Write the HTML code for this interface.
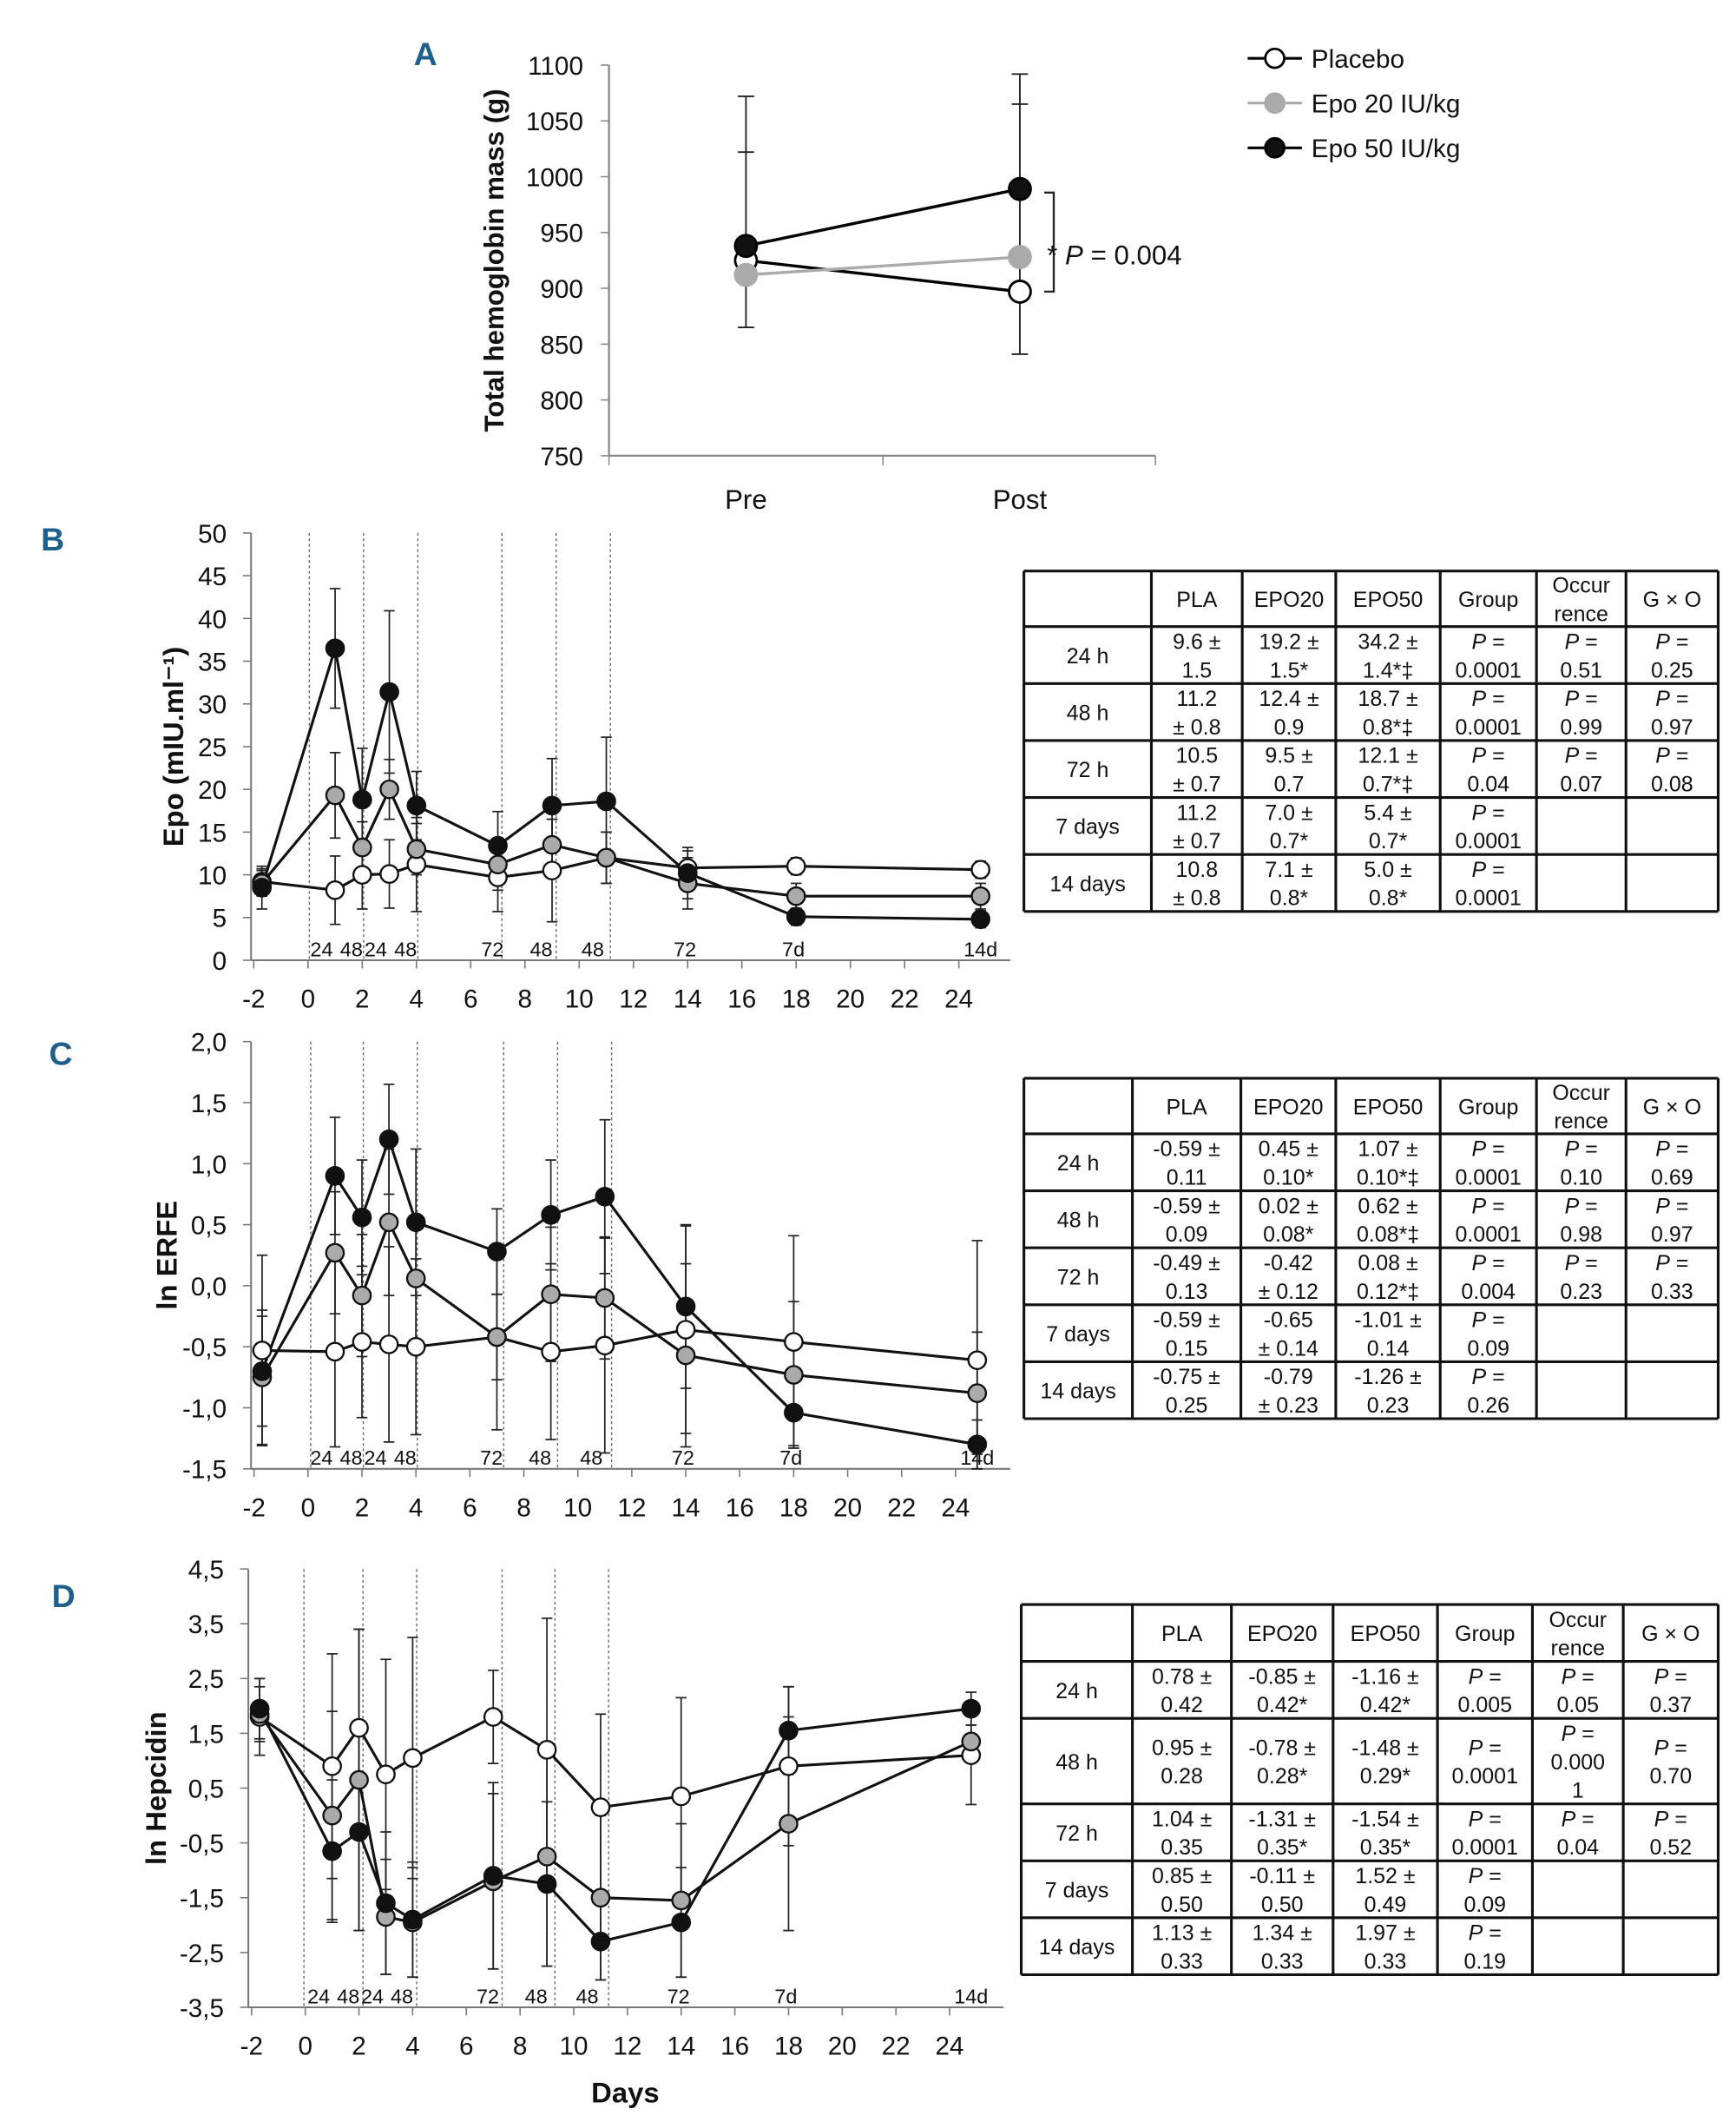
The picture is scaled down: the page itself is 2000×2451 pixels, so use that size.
<!DOCTYPE html>
<html><head><meta charset="utf-8"><style>
html,body{margin:0;padding:0;background:#fff}
svg{display:block;font-family:"Liberation Sans Narrow","Liberation Sans",sans-serif}
</style></head><body>
<svg id="s" xmlns="http://www.w3.org/2000/svg" width="2000" height="2451" viewBox="0 0 1280 1569">
<rect width="1280" height="1569" fill="#fff"/>
</svg>
<script>
// Panel A data
const aCats = ['Pre','Post'];
const aPla = [925, 897];
const aE20 = [912, 928];
const aE50 = [938, 989];
const aErrTop = [1072, 1092];
const aErrMid = [1022, 1065];
const aErrBot = [865, 841];
const aTicks = [750,800,850,900,950,1000,1050,1100];
// Panel B data
const days = [-1.7, 1, 2, 3, 4, 7, 9, 11, 14, 18, 24.8];
const bPla = [9.2, 8.2, 10, 10.1, 11.2, 9.7, 10.5, 12, 10.8, 11, 10.6];
const bE20 = [9.0, 19.3, 13.2, 20, 13, 11.2, 13.5, 12, 9, 7.5, 7.5];
const bE50 = [8.5, 36.5, 18.8, 31.4, 18.1, 13.4, 18.1, 18.6, 10.2, 5.1, 4.8];
const bPlaErr = [1.5, 4, 4, 4, 5.5, 4, 6, 3, 2, 1, 1];
const bE20Err = [1.5, 5, 3, 3.5, 3, 3, 3, 3, 3, 1.5, 1.5];
const bE50Err = [2.5, 7, 6, 9.5, 4, 4, 5.5, 7.5, 3, 1, 1];
const bTicks = [0,5,10,15,20,25,30,35,40,45,50];
// Panel C data
const cPla = [-0.53, -0.54, -0.46, -0.48, -0.5, -0.42, -0.54, -0.49, -0.36, -0.46, -0.61];
const cE20 = [-0.75, 0.27, -0.08, 0.52, 0.06, -0.42, -0.07, -0.1, -0.57, -0.73, -0.88];
const cE50 = [-0.7, 0.9, 0.56, 1.2, 0.52, 0.28, 0.58, 0.73, -0.17, -1.04, -1.3];
const cPlaErr = [0.78, 0.78, 0.62, 0.8, 0.72, 0.76, 0.72, 0.88, 0.85, 0.87, 0.98];
const cE20Err = [0.55, 0.5, 0.5, 0.6, 0.5, 0.35, 0.55, 0.5, 0.75, 0.6, 0.5];
const cE50Err = [0.45, 0.48, 0.47, 0.45, 0.6, 0.35, 0.45, 0.63, 0.67, 0.27, 0.2];
const cTicks = [-1.5,-1.0,-0.5,0.0,0.5,1.0,1.5,2.0];
// Panel D data
const dPla = [1.8, 0.9, 1.6, 0.75, 1.05, 1.8, 1.2, 0.15, 0.35, 0.9, 1.1];
const dE20 = [1.85, 0.0, 0.65, -1.85, -1.95, -1.2, -0.75, -1.5, -1.55, -0.15, 1.35];
const dE50 = [1.95, -0.65, -0.3, -1.6, -1.9, -1.1, -1.25, -2.3, -1.95, 1.55, 1.95];
const dPlaErr = [0.7, 2.05, 1.8, 2.1, 2.2, 0.85, 2.4, 1.7, 1.8, 1.45, 0.9];
const dE20Err = [0.5, 1.9, 2.75, 1.05, 1.0, 1.6, 2.0, 1.5, 1.4, 1.95, 0.3];
const dE50Err = [0.55, 1.3, 1.8, 1.3, 1.05, 1.7, 1.5, 0.7, 1.0, 0.8, 0.3];
const dTicks = [-3.5,-2.5,-1.5,-0.5,0.5,1.5,2.5,3.5,4.5];
const xTicks = [-2,0,2,4,6,8,10,12,14,16,18,20,22,24];
const tpLabels = ['24','48','24','48','72','48','48','72','7d','14d'];
const tpDays = [0.5, 1.6, 2.5, 3.6, 6.8, 8.6, 10.5, 13.9, 17.9, 24.8];

const S=document.getElementById('s');const NS='http://www.w3.org/2000/svg';
function el(tag,attrs,parent){const e=document.createElementNS(NS,tag);for(const k in attrs)e.setAttribute(k,attrs[k]);(parent||S).appendChild(e);return e;}
function txt(x,y,t,attrs,parent){const e=el('text',Object.assign({x:x,y:y,'font-size':18,fill:'#111'},attrs||{}),parent);e.textContent=t;return e;}

// Panel letters
[['A',305,48],['B',30,406],['C',36,785],['D',38,1185]].forEach(p=>{const t=txt(p[1],p[2],p[0],{'font-size':24,'font-weight':'bold',fill:'#1f5f8b'});

});

// ===== Panel A
(function(){
const g=el('g',{});


const y=v=>336-(v-750)*(288/350);const x=i=>550+i*202;
el('line',{x1:449,y1:48,x2:449,y2:336,stroke:'#888','stroke-width':1.5},g);
el('line',{x1:449,y1:336,x2:852,y2:336,stroke:'#888','stroke-width':1.5},g);
[449,651,852].forEach(tx=>el('line',{x1:tx,y1:336,x2:tx,y2:343,stroke:'#888'},g));
aTicks.forEach(v=>{el('line',{x1:443,y1:y(v),x2:449,y2:y(v),stroke:'#888'},g);txt(430,y(v)+7,String(v),{'text-anchor':'end','font-size':19},g);});
aCats.forEach((c,i)=>txt(x(i),375,c,{'text-anchor':'middle','font-size':20},g));
const yl=txt(0,0,'Total hemoglobin mass (g)',{'font-size':20,'font-weight':'bold','text-anchor':'middle',transform:'translate(371,192) rotate(-90)'},g);


aCats.forEach((c,i)=>{const xx=x(i);
[aErrTop[i],aErrMid[i]].forEach(v=>el('line',{x1:xx-6,y1:y(v),x2:xx+6,y2:y(v),stroke:'#222','stroke-width':1.2},g));
el('line',{x1:xx-6,y1:y(aErrBot[i]),x2:xx+6,y2:y(aErrBot[i]),stroke:'#222','stroke-width':1.2},g);
el('line',{x1:xx,y1:y(aErrTop[i]),x2:xx,y2:y(aErrBot[i]),stroke:'#222','stroke-width':1.2},g);});
const ser=[[aPla,'#000','#fff'],[aE20,'#aaa','#aaa'],[aE50,'#000','#111']];
ser.forEach((s,si)=>{el('line',{x1:x(0),y1:y(s[0][0]),x2:x(1),y2:y(s[0][1]),stroke:s[1],'stroke-width':2.2},g);});
ser.forEach((s,si)=>s[0].forEach((v,i)=>{const c=el('circle',{cx:x(i),cy:y(v),r:8,fill:s[2],stroke:si==1?'#aaa':'#000','stroke-width':1.8},g);

}));
el('path',{d:'M770,142 H777 V215 H770',fill:'none',stroke:'#222','stroke-width':1.5},g);
const pt=txt(772,195,'* ',{'font-size':20},g);const ts=el('tspan',{'font-style':'italic'},pt);ts.textContent='P';const ts2=el('tspan',{},pt);ts2.textContent=' = 0.004';
// legend
const lg=el('g',{});


[['Placebo','#000','#fff','#000'],['Epo 20 IU/kg','#aaa','#aaa','#aaa'],['Epo 50 IU/kg','#000','#111','#000']].forEach((l,i)=>{const yy=43+i*33;
const e=el('g',{},lg);


el('line',{x1:920,y1:yy,x2:960,y2:yy,stroke:l[1],'stroke-width':2},e);
el('circle',{cx:940,cy:yy,r:7,fill:l[2],stroke:l[3],'stroke-width':1.8},e);
txt(967,yy+7,l[0],{'font-size':19},e);});
})();

// ===== time panels
function panel(o){
const g=el('g',{});


const x=d=>o.x0+d*o.dx;const y=v=>o.yb-(v-o.ymin)*o.py;
el('line',{x1:o.xl,y1:o.yt,x2:o.xl,y2:o.yb,stroke:'#777','stroke-width':1.3},g);
el('line',{x1:o.xl,y1:o.yb,x2:o.xr,y2:o.yb,stroke:'#777','stroke-width':1.3},g);
o.ticks.forEach(v=>{el('line',{x1:o.xl-6,y1:y(v),x2:o.xl,y2:y(v),stroke:'#777'},g);txt(o.xl-18,y(v)+7,o.fmt(v),{'text-anchor':'end','font-size':19},g);});
xTicks.forEach(d=>{el('line',{x1:x(d),y1:o.yb,x2:x(d),y2:o.yb+6,stroke:'#777'},g);txt(x(d),o.yb+35,String(d),{'text-anchor':'middle','font-size':19},g);});
o.dotted.forEach(d=>el('line',{x1:x(d),y1:o.yt,x2:x(d),y2:o.yb,stroke:'#666','stroke-width':0.9,'stroke-dasharray':'2,2'},g));
tpLabels.forEach((l,i)=>txt(x(tpDays[i]),o.yb-3,l,{'text-anchor':'middle','font-size':15},g));
const yl=txt(0,0,o.ylabel,{'font-size':21,'font-weight':'bold','text-anchor':'middle',transform:'translate('+o.ylx+','+((o.yt+o.yb)/2)+') rotate(-90)'},g);


const ser=[[o.pla,o.plaE,'#fff','placebo'],[o.e20,o.e20E,'#aaa','epo20'],[o.e50,o.e50E,'#111','epo50']];
ser.forEach(s=>s[0].forEach((v,i)=>{const xx=x(days[i]);const t=y(Math.min(v+s[1][i],o.ymax)),b=y(Math.max(v-s[1][i],o.ymin));
el('line',{x1:xx,y1:t,x2:xx,y2:b,stroke:'#222','stroke-width':1.1},g);
el('line',{x1:xx-4,y1:t,x2:xx+4,y2:t,stroke:'#222','stroke-width':1.1},g);
el('line',{x1:xx-4,y1:b,x2:xx+4,y2:b,stroke:'#222','stroke-width':1.1},g);}));
ser.forEach(s=>{const p=el('polyline',{points:s[0].map((v,i)=>x(days[i])+','+y(v)).join(' '),fill:'none',stroke:'#111','stroke-width':2},g);

});
ser.forEach(s=>s[0].forEach((v,i)=>{const c=el('circle',{cx:x(days[i]),cy:y(v),r:6.5,fill:s[2],stroke:'#111','stroke-width':1.5},g);

}));
}
panel({name:'panel-b-chart',x0:227,dx:20,xl:185,xr:745,yt:393,yb:708,ymin:0,ymax:50,py:6.3,ticks:bTicks,fmt:v=>String(v),dotted:[0.05,2.05,4.05,7.15,9.15,11.15],ylabel:'Epo (mIU.ml⁻¹)',ylx:135,pla:bPla,e20:bE20,e50:bE50,plaE:bPlaErr,e20E:bE20Err,e50E:bE50Err});
panel({name:'panel-c-chart',x0:227,dx:19.9,xl:185,xr:745,yt:768,yb:1083,ymin:-1.5,ymax:2,py:90,ticks:cTicks,fmt:v=>v.toFixed(1).replace('.',','),dotted:[0.1,2.05,4.05,7.25,9.25,11.25],ylabel:'ln ERFE',ylx:130,pla:cPla,e20:cE20,e50:cE50,plaE:cPlaErr,e20E:cE20Err,e50E:cE50Err});
panel({name:'panel-d-chart',x0:225,dx:19.8,xl:183,xr:740,yt:1157,yb:1480,ymin:-3.5,ymax:4.5,py:40.4,ticks:dTicks,fmt:v=>v.toFixed(1).replace('.',','),dotted:[-0.05,2.15,4.15,7.33,9.3,11.3],ylabel:'ln Hepcidin',ylx:122,pla:dPla,e20:dE20,e50:dE50,plaE:dPlaErr,e20E:dE20Err,e50E:dE50Err});
const dl=txt(461,1550,'Days',{'font-size':21,'font-weight':'bold','text-anchor':'middle'});



// ===== tables
function table(name,cols,rows,cells){
const g=el('g',{});


rows.forEach(r=>el('line',{x1:cols[0],y1:r,x2:cols[cols.length-1],y2:r,stroke:'#111','stroke-width':2},g));
cols.forEach(c=>el('line',{x1:c,y1:rows[0],x2:c,y2:rows[rows.length-1],stroke:'#111','stroke-width':2},g));
cells.forEach((row,ri)=>row.forEach((cell,ci)=>{if(!cell)return;const lines=cell.split('|');const cx=(cols[ci]+cols[ci+1])/2,cy=(rows[ri]+rows[ri+1])/2;const lh=21;
lines.forEach((l,li)=>{const t=txt(cx,cy+6+(li-(lines.length-1)/2)*lh,'',{'text-anchor':'middle','font-size':16},g);
if(l.startsWith('P =')){const a=el('tspan',{'font-style':'italic'},t);a.textContent='P';const b=el('tspan',{},t);b.textContent=l.slice(1);}else t.textContent=l;});}));
}
const hdr=['','PLA','EPO20','EPO50','Group','Occur|rence','G × O'];
table('table-b',[755,849,916,985,1062,1133,1199,1267],[421,462,504,546,588,630,672],[hdr,
['24 h','9.6 ±|1.5','19.2 ±|1.5*','34.2 ±|1.4*‡','P =|0.0001','P =|0.51','P =|0.25'],
['48 h','11.2|± 0.8','12.4 ±|0.9','18.7 ±|0.8*‡','P =|0.0001','P =|0.99','P =|0.97'],
['72 h','10.5|± 0.7','9.5 ±|0.7','12.1 ±|0.7*‡','P =|0.04','P =|0.07','P =|0.08'],
['7 days','11.2|± 0.7','7.0 ±|0.7*','5.4 ±|0.7*','P =|0.0001','',''],
['14 days','10.8|± 0.8','7.1 ±|0.8*','5.0 ±|0.8*','P =|0.0001','','']]);
table('table-c',[755,835,915,985,1062,1133,1199,1267],[795,836,878,920,962,1004,1046],[hdr,
['24 h','-0.59 ±|0.11','0.45 ±|0.10*','1.07 ±|0.10*‡','P =|0.0001','P =|0.10','P =|0.69'],
['48 h','-0.59 ±|0.09','0.02 ±|0.08*','0.62 ±|0.08*‡','P =|0.0001','P =|0.98','P =|0.97'],
['72 h','-0.49 ±|0.13','-0.42|± 0.12','0.08 ±|0.12*‡','P =|0.004','P =|0.23','P =|0.33'],
['7 days','-0.59 ±|0.15','-0.65|± 0.14','-1.01 ±|0.14','P =|0.09','',''],
['14 days','-0.75 ±|0.25','-0.79|± 0.23','-1.26 ±|0.23','P =|0.26','','']]);
table('table-d',[753,835,908,983,1060,1130,1197,1267],[1183,1225,1267,1330,1372,1414,1456],[hdr,
['24 h','0.78 ±|0.42','-0.85 ±|0.42*','-1.16 ±|0.42*','P =|0.005','P =|0.05','P =|0.37'],
['48 h','0.95 ±|0.28','-0.78 ±|0.28*','-1.48 ±|0.29*','P =|0.0001','P =|0.000|1','P =|0.70'],
['72 h','1.04 ±|0.35','-1.31 ±|0.35*','-1.54 ±|0.35*','P =|0.0001','P =|0.04','P =|0.52'],
['7 days','0.85 ±|0.50','-0.11 ±|0.50','1.52 ±|0.49','P =|0.09','',''],
['14 days','1.13 ±|0.33','1.34 ±|0.33','1.97 ±|0.33','P =|0.19','','']]);
</script>
</body></html>
